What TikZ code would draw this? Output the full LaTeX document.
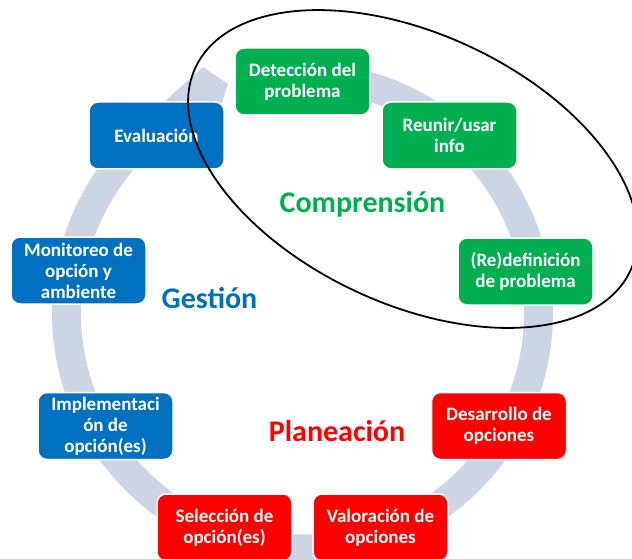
\documentclass[tikz,border=0pt]{standalone}
\usepackage{fontspec}
\setmainfont{Carlito}
\definecolor{ringc}{RGB}{205,212,228}
\definecolor{gboxc}{RGB}{0,176,80}
\definecolor{bboxc}{RGB}{0,112,192}
\definecolor{rboxc}{RGB}{255,0,0}
\begin{document}
\begin{tikzpicture}[x=1pt,y=1pt,
  stage/.style={rounded corners=9pt, minimum width=135pt, minimum height=67pt,
    draw=white, line width=1.5pt, text=white, align=center, inner sep=2pt,
    font=\fontsize{19}{21}\selectfont\bfseries},
  gstage/.style={stage, fill=gboxc},
  bstage/.style={stage, fill=bboxc},
  rstage/.style={stage, fill=rboxc},
  phase/.style={anchor=base, font=\fontsize{30}{34}\selectfont\bfseries},
  ringline/.style={draw=ringc, line width=29pt},
  loop/.style={draw=black, line width=1.8pt}]
\clip (0,0) rectangle (632,558);
\fill[white] (0,0) rectangle (632,558);
\coordinate (c) at (302.5,245);
% ring
\draw[ringline] ([shift={(92:236)}]c) arc[start angle=92, end angle=-233, radius=236];
\fill[ringc] ([shift={(127:250.5)}]c) -- (203,491) -- (228,474) -- (219,446) -- ([shift={(127:221.5)}]c) -- cycle;
% stages
\node[gstage] (det) at (302.5,476.5) {Detección del\\problema};
\node[gstage] (reu) at (449.5,422.5) {Reunir/usar\\info};
\node[gstage] (red) at (525.5,286.5) {(Re)definición\\de problema};
\node[rstage] (des) at (499,132) {Desarrollo de\\opciones};
\node[rstage] (val) at (380.5,30.5) {Valoración de\\opciones};
\node[rstage] (sel) at (224.5,30.5) {Selección de\\opción(es)};
\node[bstage] (imp) at (105.5,132) {Implementaci\\ón de\\opción(es)};
\node[bstage] (mon) at (78.5,287.5) {Monitoreo de\\opción y\\ambiente};
\node[bstage] (eva) at (156.5,422.5) {Evaluación};
% phases
\node[phase, text=gboxc] (comp) at (362.5,345) {Comprensión};
\node[phase, text=bboxc] (gest) at (209.5,250) {Gestión};
\node[phase, text=rboxc] (plan) at (337,117) {Planeación};
% ellipse
\draw[loop, rotate around={-25:(413,389)}] (413,389) ellipse [x radius=240, y radius=135];
\end{tikzpicture}
\end{document}
